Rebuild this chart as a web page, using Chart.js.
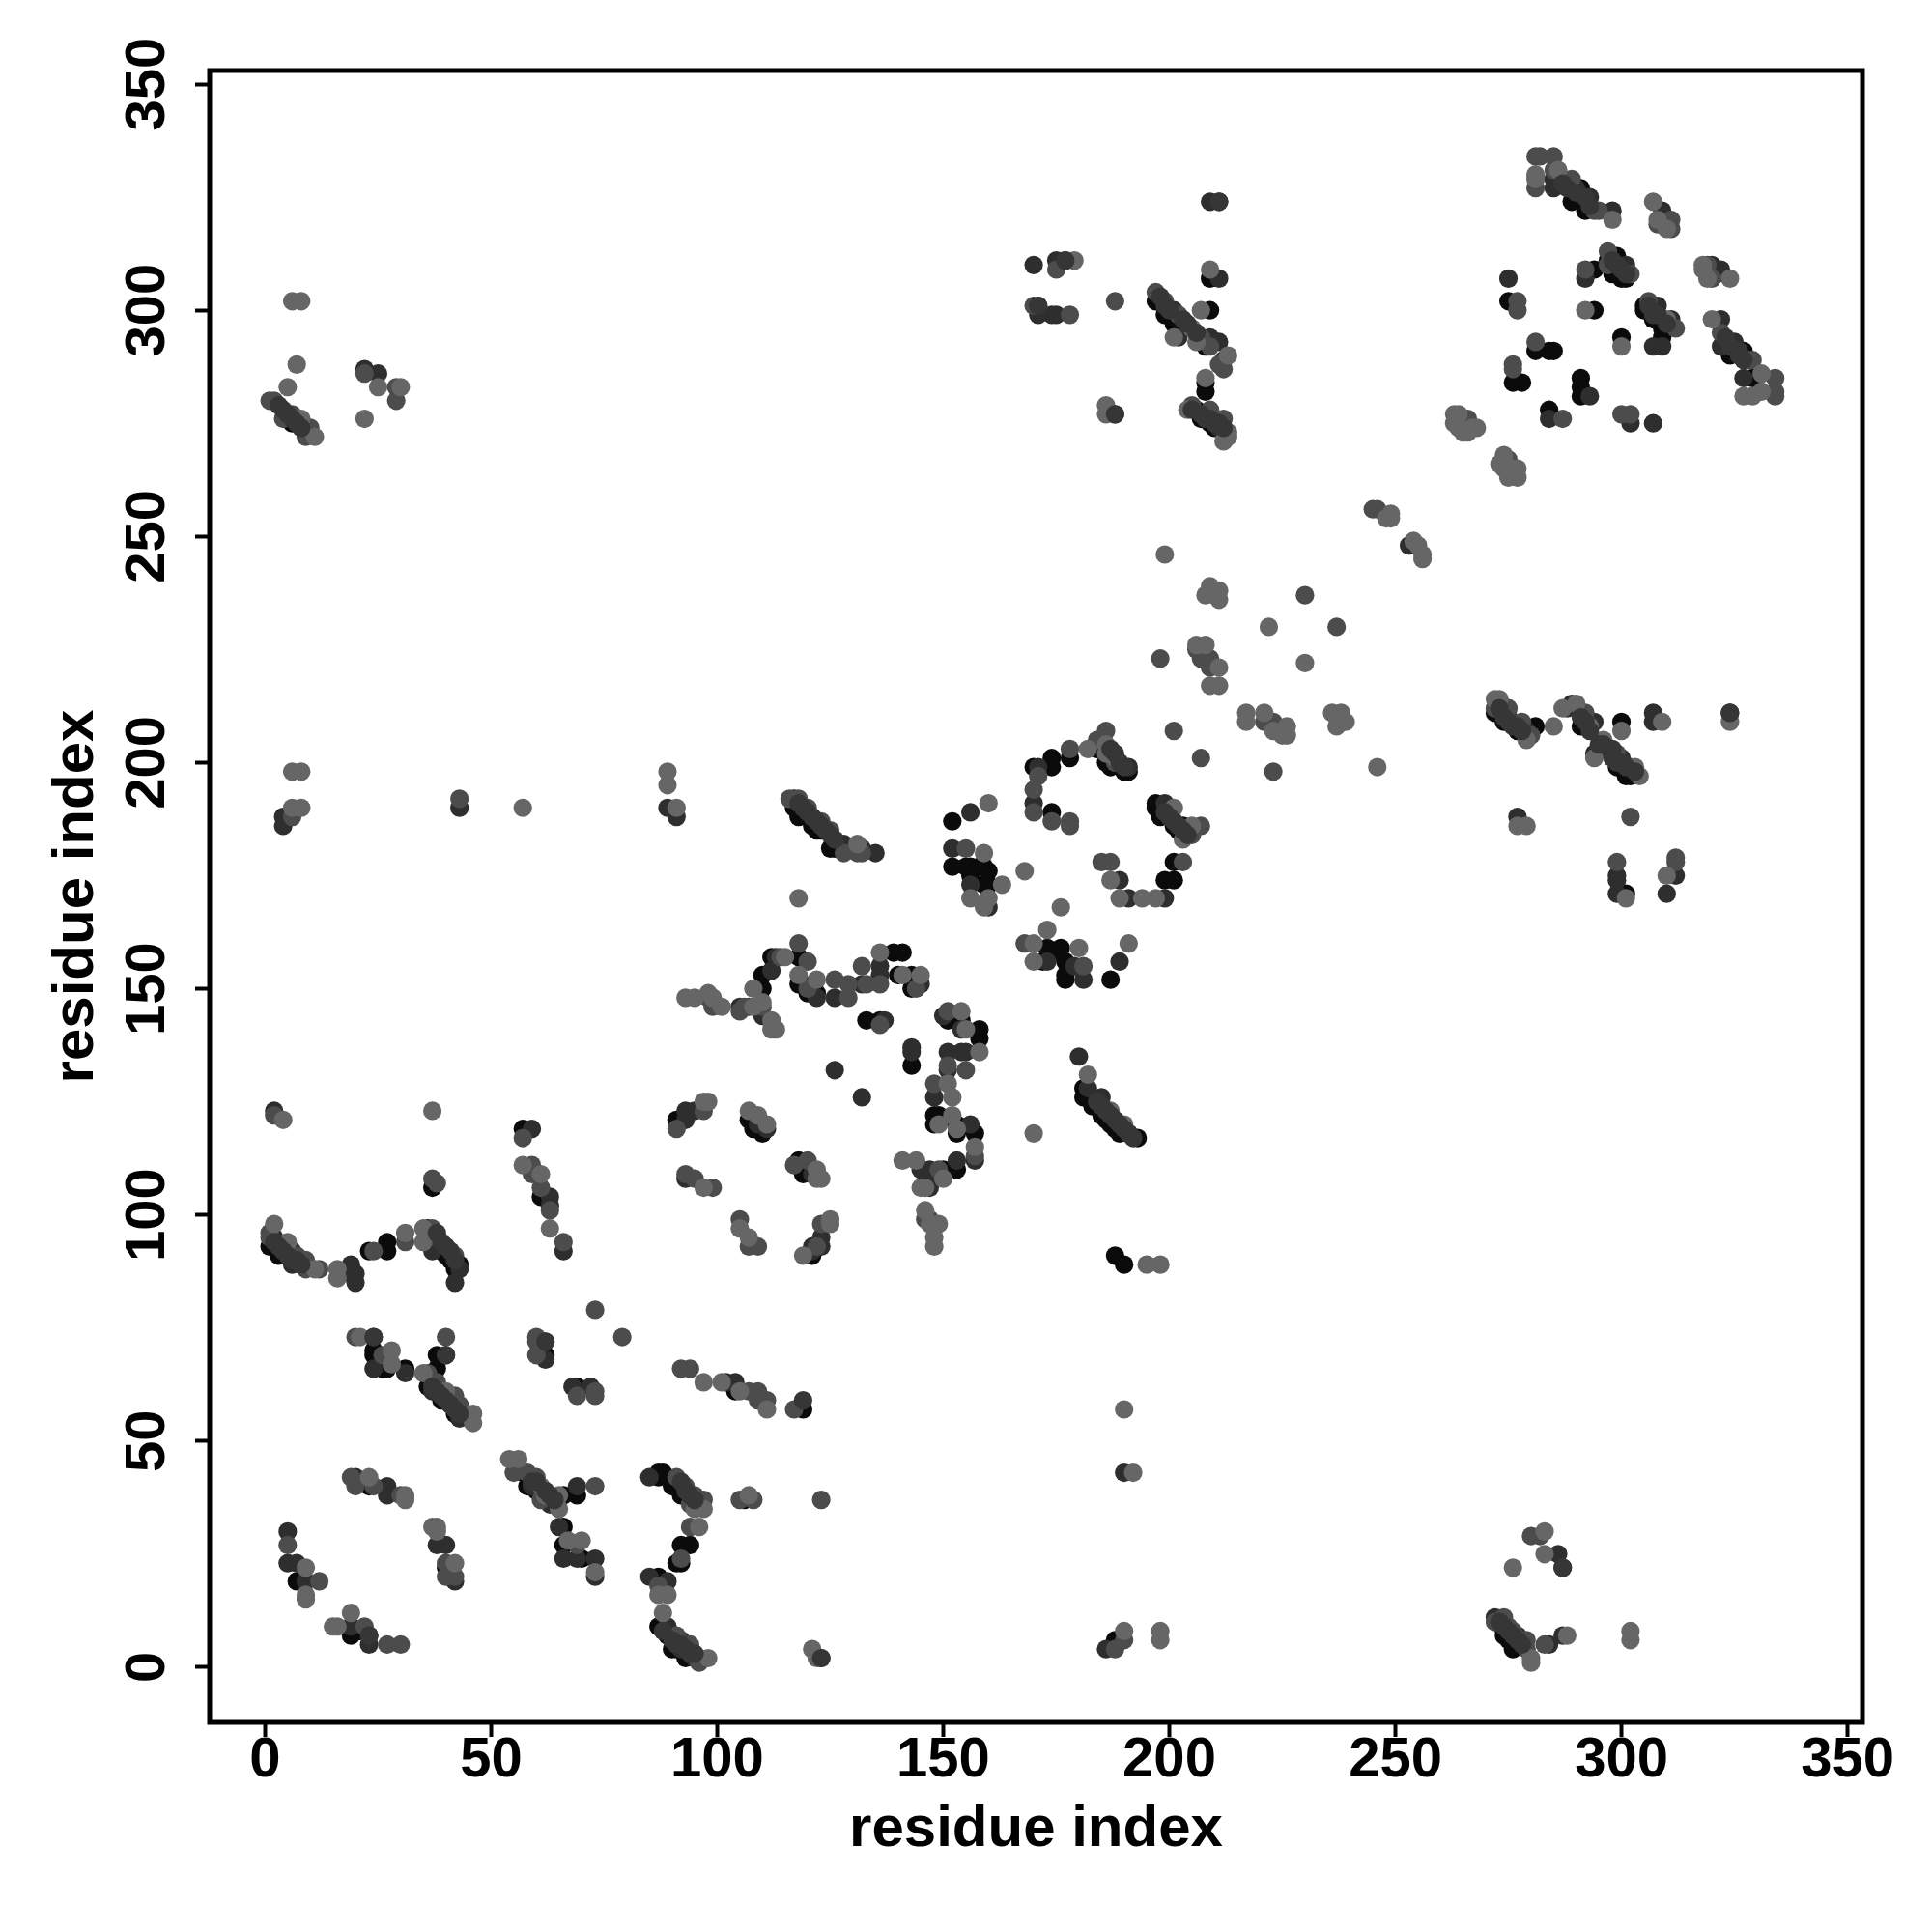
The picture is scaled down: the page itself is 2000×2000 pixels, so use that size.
<!DOCTYPE html>
<html>
<head>
<meta charset="utf-8">
<style>html,body{margin:0;padding:0;background:#fff}canvas{display:block}</style>
<script src="https://cdn.jsdelivr.net/npm/chart.js@4"></script>
</head>
<body>
<canvas id="c" width="2000" height="2000"></canvas>
<script>
const tickValues = [0, 50, 100, 150, 200, 250, 300, 350];
const axisTitle = "residue index";

const blackContacts = [
[24,70],[24,69],[26,66],[27,66],[31,66],[38,69],[38,66],[36,62],[39,59],[40,60],[41,58],[42,57],[42,56],[62,69],[69,62],[23,40],[40,22],[7,19],[19,7],[23,7],[21,8],
[57,43],[58,40],[60,39],[66,38],[69,38],[66,31],[66,27],[70,24],[87,42],[89,42],[87,43],[88,43],[90,40],[92,38],[92,27],[94,27],[91,23],[92,23],[87,20],[87,9],[89,7],[90,4],[91,4],[93,2],[94,4],[119,57],[106,37],[104,61],
[57,119],[37,106],[27,94],[27,92],[23,92],[1,93],[3,91],[8,89],[36,97],[38,93],[40,91],[39,92],[41,90],[43,89],[42,88],[61,104],
[91,121],[107,121],[108,119],[110,118],[118,111],[119,109],[118,112],[121,91],[133,143],[136,143],[143,133],[151,143],[154,143],[158,141],[158,139],[148,122],[149,122],[148,120],[153,120],[153,118],[157,118],[150,110],[153,110],[112,157],[118,157],[110,153],[110,150],[118,151],[119,151],[122,149],[120,149],[139,158],[141,158],[140,153],[143,153],[143,150],
[117,192],[117,190],[118,188],[120,188],[122,185],[125,181],[126,181],[121,186],[123,185],
[152,187],[152,177],[156,177],[155,177],[159,177],[159,173],[160,173],[156,175],[160,176],[158,177],[173,159],[176,159],[172,156],[177,156],[177,152],[187,152],[175,158],[177,153],[170,199],[174,201],[174,199],[178,201],[174,189],[184,203],[185,203],[186,200],[187,199],[190,198],[191,198],[197,191],[197,190],[198,188],[203,186],[201,186],[202,185],[201,178],[199,174],[201,174],
[181,128],[181,126],[185,123],[187,120],[189,118],[193,117],[183,124],[185,122],[186,121],[188,119],
[297,311],[294,309],[299,312],[299,309],[298,308],[300,307],[301,307],[291,327],[289,327],[289,324],[292,322],[291,324],[275,302],[294,300],[305,301],[305,300],[309,296],[307,298],[300,294],[309,294],[327,291],[324,290],[329,285],[281,291],[284,291],[285,291],[276,284],[278,284],[291,285],[291,283],[291,281],[284,278],[321,308],
[197,302],[199,299],[201,297],[203,296],[208,292],[209,307],[209,300],[208,284],[208,282],[206,278],[207,276],[209,275],[210,274],
[272,211],[274,209],[277,207],[281,208],[291,208],[297,203],[299,199],[301,197],[302,197],[300,209],[301,171],[274,8],[275,7],[277,6],[276,4],[188,6],[188,91],[190,89],[5,276],[6,275],[274,7],[275,6],[276,5]
];

const darkContacts = [
[24,73],[24,66],[31,65],[37,61],[37,63],[40,69],[43,55],[62,72],[62,68],[68,62],[72,62],[27,40],[27,38],[38,27],[40,27],[42,19],[5,30],[5,23],[7,23],[9,19],[19,9],[23,5],[63,36],[59,40],[69,40],[65,31],[66,24],[69,24],[73,24],[73,20],[20,42],
[102,63],[104,63],[85,42],[95,2],[92,6],[92,4],[96,36],[89,19],[85,20],[89,9],[123,2],
[2,123],[59,119],[63,104],[63,102],[2,95],[5,91],[6,92],[6,89],[19,89],[19,87],[20,87],[20,85],[37,96],[37,92],[43,88],[42,85],[66,92],
[93,123],[93,121],[95,123],[93,108],[109,120],[111,119],[121,109],[121,93],[123,93],[121,92],[123,95],[126,132],[132,126],[137,143],[143,137],[143,136],[150,144],[154,141],[151,136],[154,136],[155,136],[151,132],[148,126],[156,120],[157,112],[145,110],[147,110],[153,112],[147,106],[147,107],[147,108],[113,157],[112,154],[122,148],[126,148],[136,155],[136,153],[132,151],[105,146],[107,146],[110,144],[145,151],
[89,190],[91,188],[128,182],[121,188],[132,181],[135,180],
[156,189],[152,181],[156,173],[160,168],[173,156],[179,155],[181,152],[189,156],[170,191],[171,199],[191,199],[199,191],[199,170],[191,170],[189,174],[180,135],[182,128],[185,126],[191,118],[253,248],
[285,329],[285,327],[290,327],[293,325],[298,322],[309,322],[309,320],[322,309],[275,307],[292,307],[301,310],[308,301],[307,300],[311,298],[307,292],[309,292],[322,298],[322,292],[325,293],[327,285],[293,281],[284,276],[302,275],[307,275],[320,310],
[170,310],[175,311],[177,311],[171,301],[171,299],[174,299],[175,299],[188,277],[201,300],[202,294],[209,294],[211,293],[209,324],[211,324],[211,307],[212,289],[211,274],
[279,207],[275,210],[288,212],[289,213],[294,209],[294,202],[300,201],[302,199],[307,211],[307,209],[324,211],[277,188],[299,175],[299,174],[299,171],[312,175],[310,171],
[22,287],[25,286],[287,22],[286,25],[272,11],[284,5],[287,7],[277,7],[186,4],[43,190],[4,188],[4,186],[190,43]
];

const midContacts = [
[20,73],[26,69],[40,73],[36,65],[38,63],[42,60],[43,58],[60,73],[60,72],[60,69],[69,60],[73,60],[73,61],[73,79],[79,73],[92,66],[19,42],[24,40],[20,40],[30,38],[40,23],[40,20],[42,20],[5,27],[12,19],[22,9],[27,5],[30,5],[55,43],[58,43],[60,42],[61,37],[69,27],[73,40],
[94,66],[107,61],[109,61],[109,59],[111,59],[117,57],[91,42],[93,40],[95,38],[94,36],[97,37],[94,31],[92,24],[87,18],[91,7],[94,5],[96,2],[96,1],[105,37],[108,37],[123,37],
[2,122],[37,108],[38,107],[57,117],[59,111],[59,109],[61,106],[63,101],[66,94],[1,96],[1,95],[7,91],[9,90],[9,88],[12,88],[24,92],[31,94],[37,97],[38,95],[40,93],[42,91],
[91,119],[97,123],[93,109],[95,108],[99,106],[105,99],[109,93],[107,93],[117,111],[120,112],[122,93],[123,98],[136,142],[151,145],[151,133],[155,132],[148,129],[157,113],[149,110],[146,99],[147,99],[118,160],[120,156],[114,157],[120,150],[126,152],[129,151],[129,148],[132,155],[133,151],[136,151],[144,150],[98,148],[99,146],[105,145],[106,146],[110,146],
[116,192],[118,192],[120,190],[123,187],[125,185],[128,180],[131,180],[132,180],
[155,181],[168,160],[181,155],[171,197],[170,194],[170,189],[178,187],[178,186],[174,187],[178,203],[184,205],[186,207],[188,200],[201,207],[207,201],[203,178],[205,184],[207,186],[185,178],[187,178],
[230,237],[237,230],[198,223],[206,225],[207,223],[209,223],[209,221],[221,209],[223,209],[223,198],[266,276],[275,267],
[281,334],[282,334],[285,334],[281,327],[285,331],[289,329],[294,322],[295,322],[311,320],[308,319],[311,318],[319,310],[320,307],[297,313],[292,309],[302,308],[297,310],[277,302],[277,300],[306,302],[312,296],[322,295],[328,289],[329,289],[334,285],[334,282],[334,281],[281,293],[276,288],[276,287],[287,276],[300,277],[302,277],
[170,301],[175,309],[178,299],[188,302],[197,304],[199,302],[202,299],[207,294],[211,288],[212,287],[205,279],[209,278],[212,276],[209,292],
[272,212],[275,212],[278,209],[280,206],[292,211],[299,202],[302,188],[299,178],[312,179],[312,178],
[1,280],[2,280],[6,277],[4,276],[9,274],[10,274],[9,272],[22,286],[29,283],[29,280],
[280,29],[282,29],[272,10],[274,11],[276,8],[278,6],[279,4],[279,6],[275,9],[283,5],[188,4],[190,6],[6,188],[43,192],[245,256],[246,256]
];

const lightContacts = [
[21,73],[28,70],[28,67],[35,65],[40,61],[46,56],[46,54],[23,42],[31,38],[31,37],[37,31],[38,31],[38,30],[42,23],[9,22],[9,16],[9,15],[19,12],[15,9],[16,9],[54,46],[56,46],[61,40],[62,38],[65,38],[65,35],[67,28],[70,28],[73,21],
[97,63],[101,63],[105,61],[111,57],[97,35],[95,35],[87,16],[89,16],[88,12],[98,2],[121,4],[122,2],[96,31],[107,38],
[4,121],[37,123],[57,111],[61,109],[63,97],[2,98],[5,94],[11,88],[16,88],[16,86],[31,96],[35,97],[35,94],
[97,125],[98,125],[97,106],[107,123],[109,122],[111,120],[105,97],[107,95],[122,110],[123,108],[122,108],[119,91],[125,99],[125,98],[154,145],[155,141],[158,136],[151,129],[152,126],[152,122],[149,120],[153,119],[170,118],[157,115],[141,112],[144,112],[150,108],[146,106],[145,106],[146,101],[149,98],[148,95],[148,93],[147,98],
[122,152],[115,157],[108,150],[118,153],[136,158],[141,153],[145,153],[93,148],[95,148],[98,149],[99,148],[101,146],[108,146],[110,147],[112,143],[113,141],[112,141],
[89,198],[89,195],[91,190],[131,182],[118,170],
[160,191],[159,180],[163,173],[156,170],[160,170],[159,168],[168,176],[176,168],[173,163],[170,160],[180,159],[170,156],[191,160],[182,203],[186,204],[186,202],[188,201],[201,190],[205,186],[203,183],[197,170],[194,170],[189,170],[187,174],
[182,131],[187,123],[190,120],
[199,246],[209,239],[211,238],[208,237],[211,236],[210,237],[222,230],[230,222],[206,226],[208,226],[211,221],[209,217],[211,217],[217,211],[217,209],[221,211],[223,207],[226,208],[225,206],[226,206],[236,211],[238,211],[237,208],[239,209],[238,210],[246,199],[254,249],[255,248],[256,246],[256,245],[248,254],[249,255],[249,254],
[263,277],[264,277],[264,274],[266,273],[268,274],[265,273],[263,275],[267,274],[274,268],[273,266],[276,265],[276,264],[277,265],[277,263],[275,263],[274,265],
[281,330],[281,329],[286,331],[298,320],[307,324],[308,320],[310,318],[318,310],[318,309],[319,307],[324,307],[292,300],[300,292],[310,298],[320,298],[331,286],[327,281],[329,281],[331,282],
[209,309],[207,300],[186,279],[186,277],[179,311],[201,294],[205,296],[206,293],[213,290],[208,285],[204,278],[213,273],[213,272],[212,271],
[272,214],[273,214],[285,208],[279,205],[287,212],[290,213],[293,208],[296,205],[294,201],[303,199],[304,197],[300,207],[309,209],[324,209],[277,186],[279,186],[301,170],[310,175],
[6,302],[8,302],[7,288],[5,283],[8,276],[11,272],[25,283],[30,283],[22,276],
[283,30],[283,25],[276,22],[280,2],[280,1],[288,7],[302,8],[302,6],
[190,8],[198,8],[198,6],[190,57],[192,43],[195,89],[198,89],[6,190],[8,190],[6,198],[8,198],[57,190]
];

const overlayContacts = [
[3,279],[4,278],[5,277],[6,276],[7,275],[8,274],
[118,191],[119,190],[120,189],[121,188],[122,187],[123,186],[124,185],[125,184],[126,183],
[184,125],[185,124],[186,123],[187,122],[188,121],[189,120],[190,119],[191,118],[192,117],
[273,10],[274,9],[275,8],[276,7],[277,6],[278,5],
[37,62],[38,61],[39,60],[40,59],[41,58],[42,57],[43,56],
[2,94],[3,93],[4,92],[5,91],[6,90],[7,90],[8,89],
[38,96],[39,94],[40,93],[41,92],[42,90],
[59,41],[60,41],[62,39],[63,38],[64,37],
[92,41],[93,39],[94,38],[95,37],
[88,8],[90,6],[91,5],[92,5],[93,4],[94,3],[95,3],
[198,303],[199,301],[200,300],[203,298],[204,297],[206,295],
[205,278],[207,277],[208,276],[209,276],[210,275],[211,275],[212,274],
[287,328],[288,327],[290,326],[292,325],[293,323],
[323,294],[324,292],[326,291],[326,290],[327,289],
[273,212],[274,210],[275,209],[276,208],[277,208],[278,207],
[291,210],[292,209],[293,207],[295,204],[296,204],[298,203],[298,201],[299,200],[300,200],[301,199],[303,198],
[199,189],[200,188],[201,187],[202,186],[203,185],[204,184],
[187,203],[188,202],[189,200],[190,199],
[306,301],[307,299],[308,299],[310,297],
[298,311],[299,310],[300,309],[301,308],
[62,72],[119,59],[123,2],[23,7],[287,22],[188,277],[211,324],[171,301],[24,73],[40,69],[177,311],[324,211]
];

const font = "'Liberation Sans', Arial, sans-serif";
const toPoints = list => list.map(p => ({x: p[0], y: p[1]}));
const layer = (list, colour) => ({
  data: toPoints(list), backgroundColor: colour, borderWidth: 0,
  pointRadius: 9.6, pointHoverRadius: 9.6
});

const frame = {
  id: 'frame',
  afterDraw(chart) {
    const a = chart.chartArea, g = chart.ctx;
    g.save(); g.strokeStyle = '#000'; g.lineWidth = 5;
    g.strokeRect(a.left, a.top, a.right - a.left, a.bottom - a.top);
    g.restore();
  }
};

const sharedScale = {
  type: 'linear',
  afterBuildTicks(s) { s.ticks = tickValues.map(v => ({value: v})); },
  border: {display: false},
  grid: {drawOnChartArea: false, drawTicks: true, tickLength: 15, tickWidth: 4, tickColor: '#000'}
};

new Chart(document.getElementById('c'), {
  type: 'scatter',
  data: {datasets: [
    layer(overlayContacts, '#363636'),
    layer(lightContacts, '#666666'),
    layer(midContacts, '#4c4c4c'),
    layer(darkContacts, '#2e2e2e'),
    layer(blackContacts, '#0b0b0b')
  ]},
  plugins: [frame],
  options: {
    responsive: false, animation: false,
    layout: {padding: {top: 73, right: 72, left: 0, bottom: 0}},
    plugins: {legend: {display: false}, tooltip: {enabled: false}},
    scales: {
      x: Object.assign({}, sharedScale, {
        min: -12.27, max: 353.3,
        afterFit(s) { s.height = 217; },
        ticks: {color: '#000', padding: -10, maxRotation: 0, minRotation: 0, autoSkip: false,
          font: {family: font, size: 58, weight: 'bold'}},
        title: {display: true, text: axisTitle, color: '#000', padding: {top: 0, bottom: 70},
          font: {family: font, size: 60, weight: 'bold'}}
      }),
      y: Object.assign({}, sharedScale, {
        min: -12.2, max: 353,
        afterFit(s) { s.width = 217; },
        ticks: {color: '#000', padding: 0, minRotation: 90, maxRotation: 90, autoSkip: false, crossAlign: 'center',
          font: {family: font, size: 58, weight: 'bold'}},
        title: {display: true, text: axisTitle, color: '#000', padding: {top: 43, bottom: 0},
          font: {family: font, size: 60, weight: 'bold'}}
      })
    }
  }
});
</script>
</body>
</html>
